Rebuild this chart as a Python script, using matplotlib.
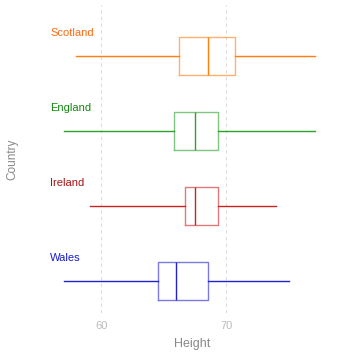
import matplotlib.pyplot as plt

# box statistics (Height)
countries = ["Wales", "Ireland", "England", "Scotland"]
whislo = [57.0, 59.1, 57.0, 58.0]
q1 = [64.5, 66.7, 65.8, 66.2]
med = [66.0, 67.5, 67.5, 68.5]
q3 = [68.5, 69.3, 69.3, 70.7]
whishi = [75.0, 74.0, 77.1, 77.1]
line_colors = ["#2222cc", "#cc2222", "#2ca02c", "#ff7f0e"]
text_colors = ["#1a1acc", "#aa1111", "#118811", "#ff6a10"]

plt.rcParams["font.family"] = ["Liberation Sans", "DejaVu Sans"]

fig = plt.figure(figsize=(3.58, 3.57), dpi=100)
ax = fig.add_axes([45 / 358, 1 - 313 / 357, 295 / 358, 308 / 357])

stats = []
for i, c in enumerate(countries):
    stats.append(dict(label=c, whislo=whislo[i], q1=q1[i], med=med[i],
                      q3=q3[i], whishi=whishi[i], fliers=[]))

for i, s in enumerate(stats):
    col = line_colors[i]
    ax.bxp([s], positions=[i], vert=False, widths=0.5, showcaps=False,
           boxprops=dict(color=col, alpha=0.6, linewidth=1),
           medianprops=dict(color=col, linewidth=1),
           whiskerprops=dict(color=col, linewidth=1))
    ax.text(55.9, i + 0.3, countries[i], color=text_colors[i],
            fontsize=8, ha="left", va="center")

ax.set_xlim(55.5, 79.1)
ax.set_ylim(-0.43, 3.68)
ax.set_xticks([60, 70])
ax.set_yticks([])
ax.grid(axis="x", color="#dddddd", linestyle=(0, (3, 3)), linewidth=0.8)
ax.set_axisbelow(True)
for sp in ax.spines.values():
    sp.set_visible(False)
ax.tick_params(axis="x", length=0, colors="#bbbbbb", labelsize=8, pad=6)
ax.set_xlabel("Height", color="#888888", fontsize=9, labelpad=5)
ax.set_ylabel("Country", color="#888888", fontsize=8.5, labelpad=19)

fig.savefig("out.png", dpi=100)
